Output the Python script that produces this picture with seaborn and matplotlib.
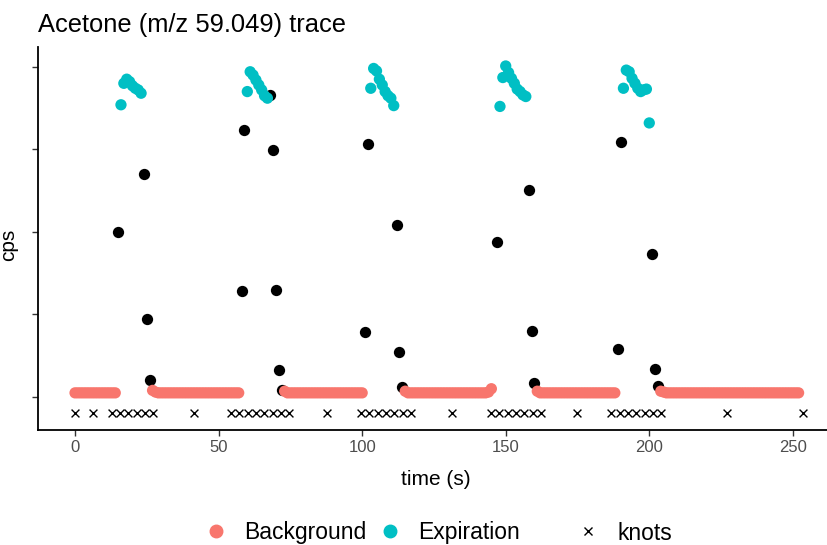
import numpy as np
import pandas as pd
import matplotlib
matplotlib.use("Agg")
import matplotlib.pyplot as plt
from matplotlib.lines import Line2D
import seaborn as sns

# background samples (time in s, signal in arbitrary cps units)
bg_time = [0, 1, 2, 3, 4, 5, 6, 7, 8, 9, 10, 11, 12, 13, 14,
           27, 28, 29, 30, 31, 32, 33, 34, 35, 36, 37, 38, 39, 40, 41, 42, 43, 44, 45, 46, 47, 48, 49, 50, 51,
           52, 53, 54, 55, 56, 57,
           73, 74, 75, 76, 77, 78, 79, 80, 81, 82, 83, 84, 85, 86, 87, 88, 89, 90, 91, 92, 93, 94, 95, 96, 97,
           98, 99, 100,
           115, 116, 117, 118, 119, 120, 121, 122, 123, 124, 125, 126, 127, 128, 129, 130, 131, 132, 133, 134,
           135, 136, 137, 138, 139, 140, 141, 142, 143, 144, 145,
           161, 162, 163, 164, 165, 166, 167, 168, 169, 170, 171, 172, 173, 174, 175, 176, 177, 178, 179, 180,
           181, 182, 183, 184, 185, 186, 187, 188,
           204, 205, 206, 207, 208, 209, 210, 211, 212, 213, 214, 215, 216, 217, 218, 219, 220, 221, 222, 223,
           224, 225, 226, 227, 228, 229, 230, 231, 232, 233, 234, 235, 236, 237, 238, 239, 240, 241, 242, 243,
           244, 245, 246, 247, 248, 249, 250, 251, 252]
bg_cps = [0.05, 0.05, 0.05, 0.05, 0.05, 0.05, 0.05, 0.05, 0.05, 0.05, 0.05, 0.05, 0.05, 0.05, 0.05,
          0.08, 0.06, 0.05, 0.05, 0.05, 0.05, 0.05, 0.05, 0.05, 0.05, 0.05, 0.05, 0.05, 0.05, 0.05, 0.05,
          0.05, 0.05, 0.05, 0.05, 0.05, 0.05, 0.05, 0.05, 0.05, 0.05, 0.05, 0.05, 0.05, 0.05, 0.05,
          0.07, 0.05, 0.05, 0.05, 0.05, 0.05, 0.05, 0.05, 0.05, 0.05, 0.05, 0.05, 0.05, 0.05, 0.05, 0.05,
          0.05, 0.05, 0.05, 0.05, 0.05, 0.05, 0.05, 0.05, 0.05, 0.05, 0.05, 0.05,
          0.07, 0.05, 0.05, 0.05, 0.05, 0.05, 0.05, 0.05, 0.05, 0.05, 0.05, 0.05, 0.05, 0.05, 0.05, 0.05,
          0.05, 0.05, 0.05, 0.05, 0.05, 0.05, 0.05, 0.05, 0.05, 0.05, 0.05, 0.05, 0.05, 0.06, 0.10,
          0.07, 0.05, 0.05, 0.05, 0.05, 0.05, 0.05, 0.05, 0.05, 0.05, 0.05, 0.05, 0.05, 0.05, 0.05, 0.05,
          0.05, 0.05, 0.05, 0.05, 0.05, 0.05, 0.05, 0.05, 0.05, 0.05, 0.05, 0.05,
          0.07, 0.06, 0.05, 0.05, 0.05, 0.05, 0.05, 0.05, 0.05, 0.05, 0.05, 0.05, 0.05, 0.05, 0.05, 0.05,
          0.05, 0.05, 0.05, 0.05, 0.05, 0.05, 0.05, 0.05, 0.05, 0.05, 0.05, 0.05, 0.05, 0.05, 0.05, 0.05,
          0.05, 0.05, 0.05, 0.05, 0.05, 0.05, 0.05, 0.05, 0.05, 0.05, 0.05, 0.05, 0.05, 0.05, 0.05, 0.05,
          0.05]

# expiration samples
exp_time = [16, 17, 18, 19, 20, 21, 22, 23,
            60, 61, 62, 63, 64, 65, 66, 67,
            103, 104, 105, 106, 107, 108, 109, 110, 111,
            148, 149, 150, 151, 152, 153, 154, 155, 156, 157,
            191, 192, 193, 194, 195, 196, 197, 198, 199, 200]
exp_cps = [3.54, 3.80, 3.85, 3.82, 3.77, 3.74, 3.72, 3.68,
           3.70, 3.94, 3.90, 3.84, 3.78, 3.72, 3.65, 3.62,
           3.74, 3.98, 3.95, 3.85, 3.78, 3.70, 3.65, 3.62, 3.53,
           3.52, 3.87, 4.01, 3.93, 3.86, 3.80, 3.73, 3.70, 3.66, 3.64,
           3.74, 3.96, 3.94, 3.86, 3.80, 3.74, 3.70, 3.72, 3.73, 3.32]

# transition samples (unclassified, drawn black)
tr_time = [15, 24, 25, 26,
           58, 59, 68, 69, 70, 71, 72,
           101, 102, 112, 113, 114,
           147, 158, 159, 160,
           189, 190, 201, 202, 203]
tr_cps = [2.00, 2.70, 0.95, 0.21,
          1.28, 3.24, 3.66, 2.99, 1.30, 0.33, 0.09,
          0.79, 3.07, 2.08, 0.55, 0.12,
          1.88, 2.51, 0.80, 0.17,
          0.58, 3.09, 1.73, 0.34, 0.13]

# spline knots
knot_time = [0, 6.4, 12.8, 15.7, 18.6, 21.5, 24.4, 27.3, 41.3,
             54.3, 57.2, 60.1, 63.0, 65.9, 68.8, 71.7, 74.6, 87.8,
             99.6, 102.5, 105.4, 108.3, 111.2, 114.1, 117.0, 131.3,
             144.9, 147.8, 150.7, 153.6, 156.5, 159.4, 162.4, 174.9,
             186.8, 189.7, 192.6, 195.5, 198.4, 201.3, 204.2, 227.2, 253.4]
knot_cps = [-0.19] * len(knot_time)

colors = {"Background": "#F8766D", "Expiration": "#00BFC4"}

df = pd.DataFrame({
    "time": bg_time + exp_time,
    "cps": bg_cps + exp_cps,
    "phase": ["Background"] * len(bg_time) + ["Expiration"] * len(exp_time),
})

sns.set_style("ticks")
plt.rcParams["font.family"] = ["Liberation Sans", "DejaVu Sans"]
plt.rcParams["text.color"] = "black"
plt.rcParams["axes.labelcolor"] = "black"

fig = plt.figure(figsize=(8.27, 5.45), dpi=100)
ax = fig.add_axes([38 / 827, 1 - 430 / 545, 1 - 38 / 827, (430 - 47) / 545])

sns.scatterplot(data=df, x="time", y="cps", hue="phase", palette=colors,
                s=66, linewidth=0, ax=ax, legend=False, zorder=3)
sns.scatterplot(x=tr_time, y=tr_cps, color="black", s=66, linewidth=0, ax=ax, zorder=2)
ax.scatter(knot_time, knot_cps, marker="x", color="black", s=32, linewidths=1.0, zorder=2)

ax.set_xlim(-12.9, 261.9)
ax.set_ylim(-0.40, 4.24)
ax.set_xticks([0, 50, 100, 150, 200, 250])
ax.set_yticks([0, 1, 2, 3, 4])
ax.set_yticklabels([])
ax.tick_params(axis="x", colors="#333333", labelcolor="#4D4D4D", labelsize=12, length=4, width=1)
ax.tick_params(axis="y", colors="#333333", length=4, width=1)
for side in ["top", "right"]:
    ax.spines[side].set_visible(False)
for side in ["left", "bottom"]:
    ax.spines[side].set_linewidth(1.3)
    ax.spines[side].set_color("black")

ax.set_xlabel("time (s)", fontsize=15)
ax.set_ylabel("cps", fontsize=15)
ax.xaxis.set_label_coords((436 - 38) / (827 - 38), -(470 - 430) / 383)
ax.yaxis.set_label_coords(-(38 - 18) / (827 - 38), (430 - 245) / 383)

fig.text(38 / 827, 1 - 25 / 545, "Acetone (m/z 59.049) trace", fontsize=18.4, va="center", ha="left")

h1 = [Line2D([], [], marker="o", linestyle="", color=colors[k], markersize=9) for k in colors]
fig.legend(h1, list(colors), loc="center", bbox_to_anchor=(361 / 827, 1 - 533 / 545),
           ncol=2, frameon=False, fontsize=16.5, handletextpad=0.6, columnspacing=0.45,
           handlelength=1.2)
h2 = [Line2D([], [], marker="x", linestyle="", color="black", markersize=6, markeredgewidth=1)]
fig.legend(h2, ["knots"], loc="center", bbox_to_anchor=(623 / 827, 1 - 533 / 545),
           frameon=False, fontsize=16.5, handletextpad=0.7, handlelength=1.2)

fig.savefig("out.png", dpi=100)
